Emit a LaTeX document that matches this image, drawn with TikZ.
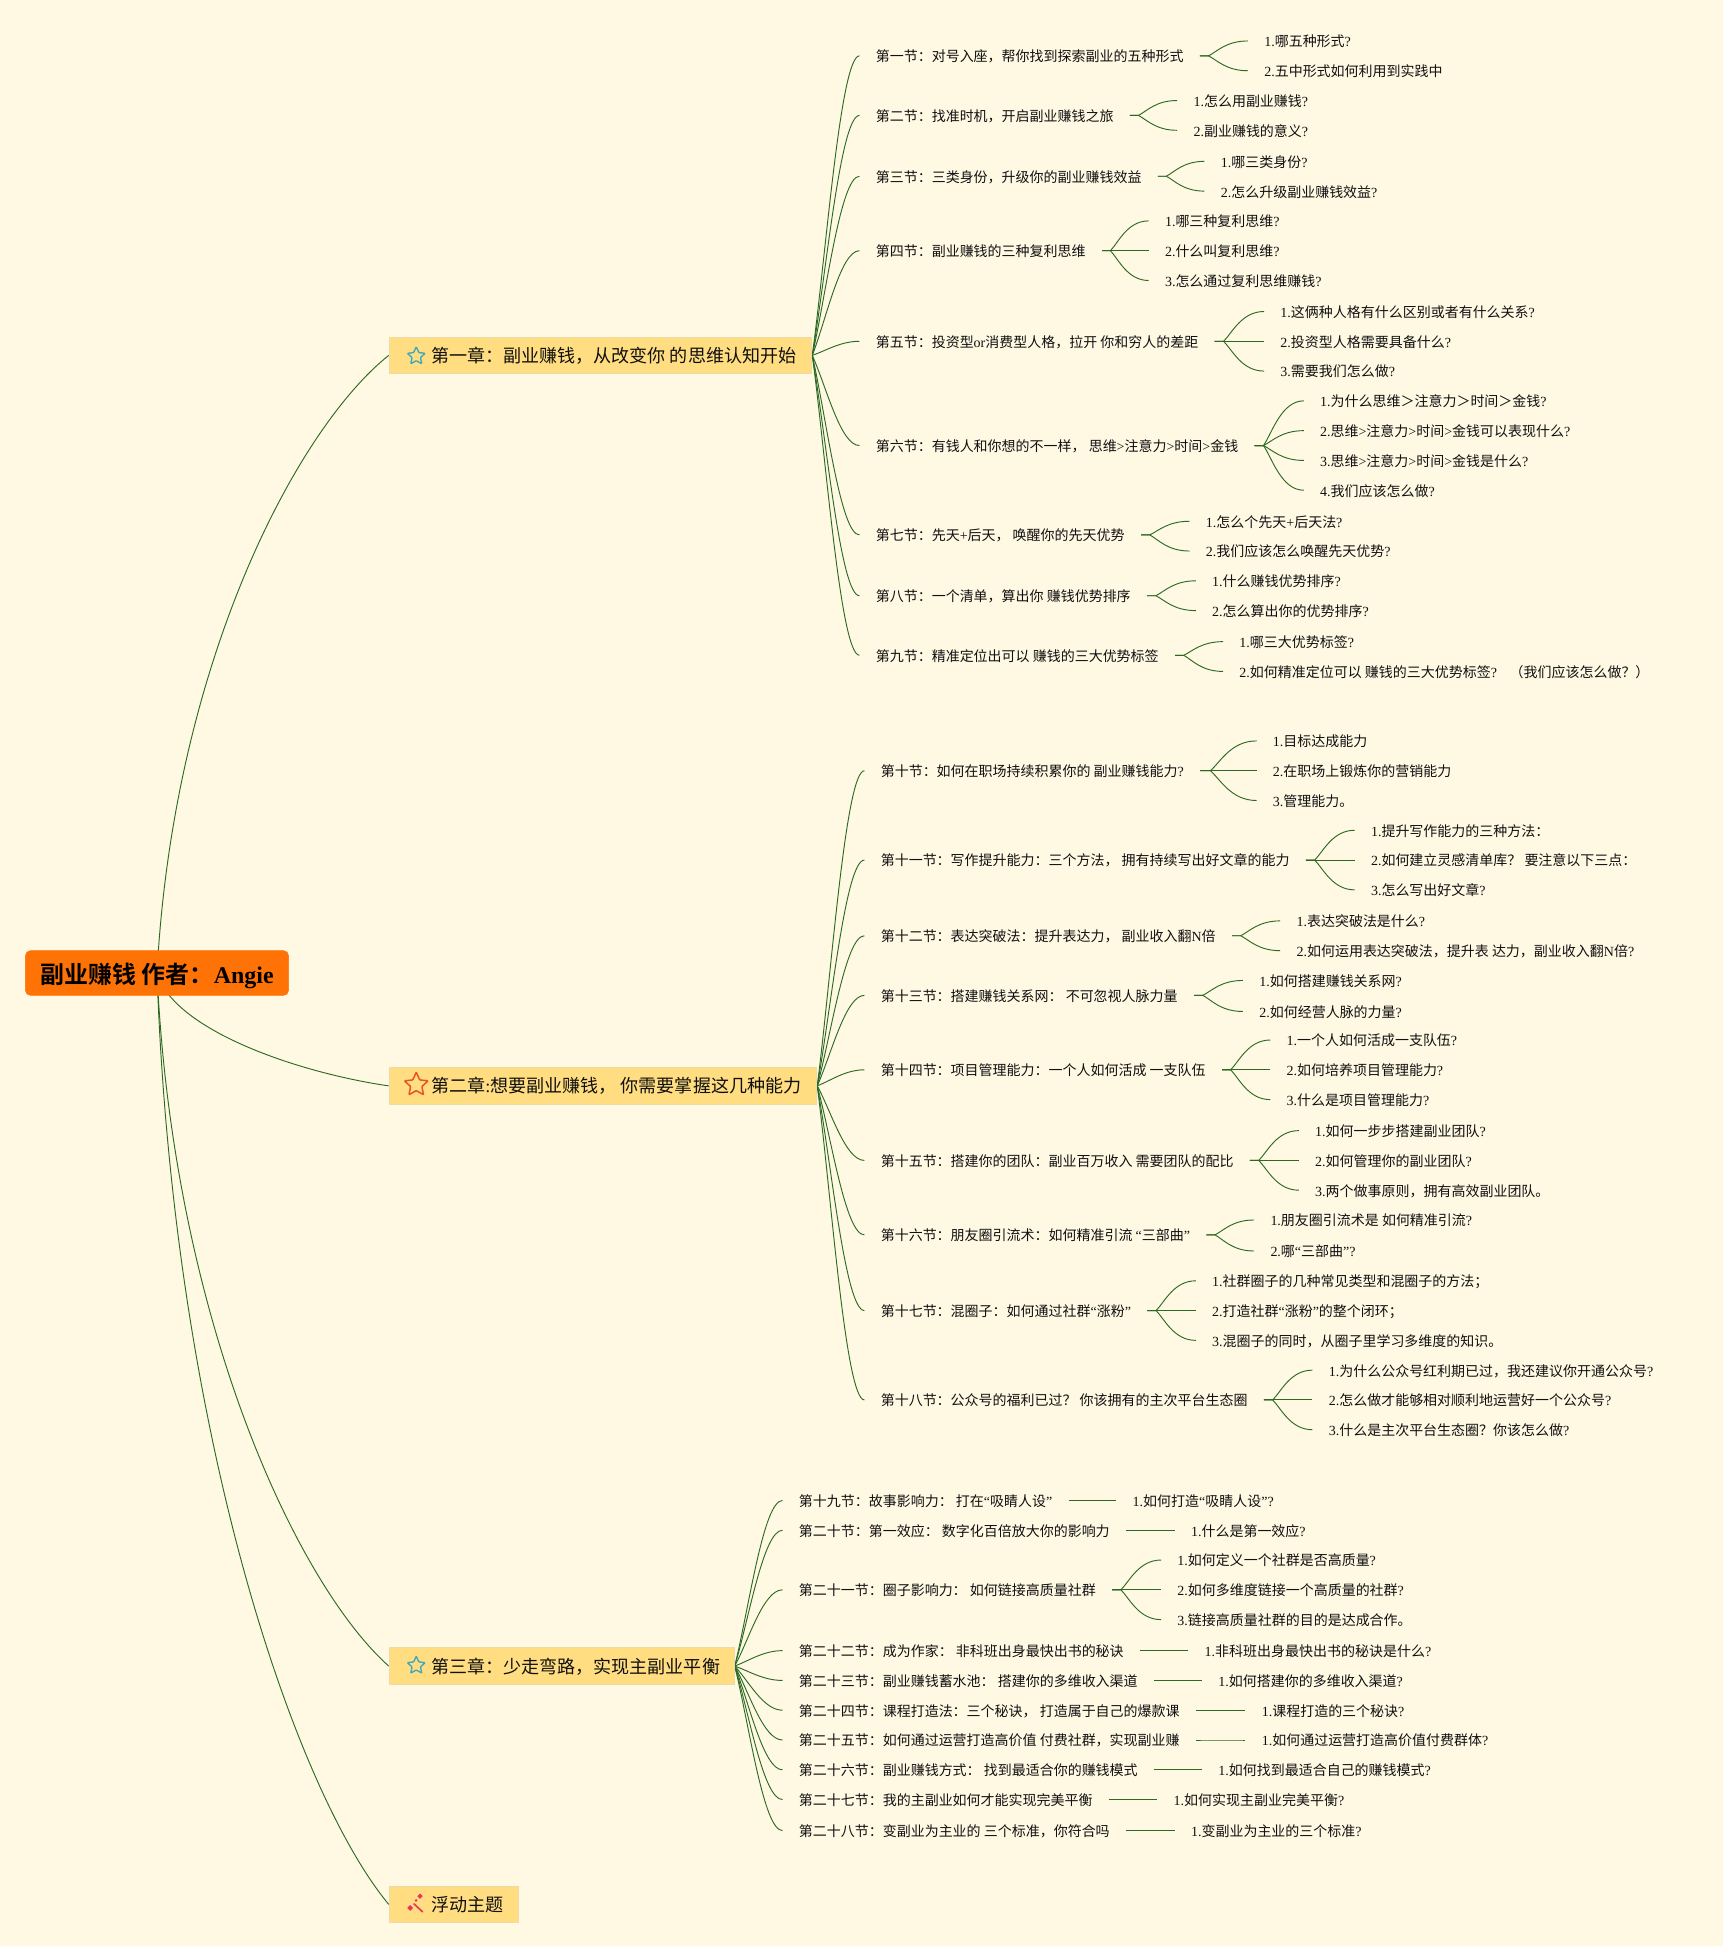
\documentclass[tikz,border=0pt]{standalone}
\usepackage{fontspec}
\usetikzlibrary{shapes.geometric,backgrounds,calc}
\setmainfont{Noto Sans CJK SC}
\newfontfamily\latfont{Liberation Serif}
\newfontfamily\cjkbold[BoldFont={Noto Sans CJK SC Bold}]{Noto Sans CJK SC}
\newcommand\lat[1]{{\latfont #1}}
\newcommand\qm{{\latfont ?}}
\definecolor{bgc}{HTML}{FFF8E3}
\definecolor{linec}{HTML}{2C6A24}
\definecolor{chapfill}{HTML}{FFDD80}
\definecolor{chapedge}{HTML}{EBDCA6}
\definecolor{rootfill}{HTML}{FF7306}
\definecolor{starblue}{HTML}{3FA8BE}
\definecolor{starred}{HTML}{E8532A}
\definecolor{wandred}{HTML}{E8355A}
\definecolor{txt}{HTML}{101010}
\tikzset{
  conn/.style={draw=linec,line width=0.75pt},
  rootbox/.style={draw=rootfill,fill=rootfill,rounded corners=4pt,minimum width=212pt,minimum height=36pt,inner sep=0pt},
  chapbox/.style={draw=chapedge,fill=chapfill,line width=0.8pt,inner sep=0pt,anchor=north west},
  chaptext/.style={anchor=west,inner sep=0pt,font=\fontsize{14.55pt}{17pt}\selectfont,text=txt},
  secnode/.style={anchor=west,inner xsep=13pt,inner ysep=0pt,text height=11.5pt,text depth=2pt,font=\fontsize{11.27pt}{14pt}\selectfont,text=txt},
  starblueic/.style={star,star points=5,star point ratio=2.1,draw=starblue,line width=1.1pt,minimum size=15pt,inner sep=0pt,rounded corners=0.6pt},
  starredic/.style={star,star points=5,star point ratio=2.1,draw=starred,line width=1.2pt,minimum size=20pt,inner sep=0pt,rounded corners=0.6pt},
  wandpart/.style={draw=wandred,line width=1.3pt,line cap=round},
}
\newcommand\spark[3]{\fill[wandred] (#1-#3,#2) -- (#1,#2-#3) -- (#1+#3,#2) -- (#1,#2+#3) -- cycle;}
\newcommand\chapcurve[2]{%
  \begin{pgfonlayer}{background}
  \draw[conn] let \p1=(#1),\p2=(#2),\n1={\x2-\x1},\n2={\y2-\y1} in
    (\p1) .. controls ({\x1+0.07*\n1},{\y1+0.5*\n2}) and ({\x1+0.6*\n1},{\y1+0.88*\n2}) .. (\p2);
  \end{pgfonlayer}}
% section: name, text-x, y, parent, text
\newcommand\mysec[5]{%
  \node[secnode] (#1) at (#2-13.5,#3) {#5};
  \begin{pgfonlayer}{background}
  \draw[conn] let \p1=(#4.east),\p2=(#1.west),\n1={\x2-\x1},\n2={\y2-\y1} in
    (\p1) .. controls ({\x1+0.3*\n1},{\y1+0.35*\n2}) and ({\x1+0.6*\n1},\y2) .. (\p2);
  \end{pgfonlayer}}
% child: name, text-x, y, parent, text
\newcommand\mykid[5]{%
  \node[secnode] (#1) at (#2-13.5,#3) {#5};
  \begin{pgfonlayer}{background}
  \draw[conn] let \p1=(#4.east),\p2=(#1.west),\n1={\x2-\x1},\n2={\y2-\y1} in
    (\p1) -- ({\x1+0.18*\n1},\y1) .. controls ({\x1+0.36*\n1},{\y1+0.3*\n2}) and ({\x1+0.55*\n1},\y2) .. (\p2);
  \end{pgfonlayer}}
\begin{document}
\begin{tikzpicture}[x=1pt,y=-1pt]
\begin{pgfonlayer}{background}
\fill[bgc] (0,0) rectangle (1388,1568);
\end{pgfonlayer}
\useasboundingbox (0,0) rectangle (1388,1568);

\node[rootbox] (root) at (126.5,784) {};
\node[anchor=west,inner sep=0pt,font=\fontsize{19.3pt}{22pt}\selectfont\bfseries,text=black] (roottext) at (32.6,786.5)
  {\cjkbold\bfseries 副业赚钱 作者：{\latfont\bfseries Angie}};

\node[chapbox,minimum width=340.5pt,minimum height=29.5pt] (c1) at (313.2,271.2) {};
\node[chaptext] (c1t) at (347.2,287) {第一章：副业赚钱，从改变你 的思维认知开始};
\node[starblueic] (c1i) at (335.4,287) {};
\node[chapbox,minimum width=344.5pt,minimum height=29.5pt] (c2) at (313.2,859.8) {};
\node[chaptext] (c2t) at (347.2,875) {第二章{\latfont:}想要副业赚钱， 你需要掌握这几种能力};
\node[starredic] (c2i) at (335.4,874) {};
\node[chapbox,minimum width=278pt,minimum height=29.5pt] (c3) at (313.2,1327.3) {};
\node[chaptext] (c3t) at (347.2,1343) {第三章：少走弯路，实现主副业平衡};
\node[starblueic] (c3i) at (335.4,1342) {};
\node[chapbox,minimum width=104pt,minimum height=29.5pt] (c4) at (313.2,1519.3) {};
\node[chaptext] (c4t) at (347.2,1535) {浮动主题};
\draw[wandpart] (333.5,1534) -- (340.5,1540.5);
\spark{330.5}{1537.3}{2.4}
\spark{338.5}{1527.8}{2.2}
\spark{335.2}{1531.3}{1.2}

\chapcurve{root.center}{c1.west}
\chapcurve{root.center}{c2.west}
\chapcurve{root.center}{c3.west}
\chapcurve{root.center}{c4.west}

% Chapter 1
\mysec{s1}{706}{45}{c1}{第一节：对号入座，帮你找到探索副业的五种形式}
\mykid{s1a}{1019}{33}{s1}{\lat{1.}哪五种形式\qm}
\mykid{s1b}{1019}{57}{s1}{\lat{2.}五中形式如何利用到实践中}
\mysec{s2}{706}{93}{c1}{第二节：找准时机，开启副业赚钱之旅}
\mykid{s2a}{962}{81}{s2}{\lat{1.}怎么用副业赚钱\qm}
\mykid{s2b}{962}{105}{s2}{\lat{2.}副业赚钱的意义\qm}
\mysec{s3}{706}{142}{c1}{第三节：三类身份，升级你的副业赚钱效益}
\mykid{s3a}{984}{130}{s3}{\lat{1.}哪三类身份\qm}
\mykid{s3b}{984}{154}{s3}{\lat{2.}怎么升级副业赚钱效益\qm}
\mysec{s4}{706}{202}{c1}{第四节：副业赚钱的三种复利思维}
\mykid{s4a}{939}{178}{s4}{\lat{1.}哪三种复利思维\qm}
\mykid{s4b}{939}{202}{s4}{\lat{2.}什么叫复利思维\qm}
\mykid{s4c}{939}{226}{s4}{\lat{3.}怎么通过复利思维赚钱\qm}
\mysec{s5}{706}{275}{c1}{第五节：投资型\lat{or}消费型人格，拉开 你和穷人的差距}
\mykid{s5a}{1032}{251}{s5}{\lat{1.}这俩种人格有什么区别或者有什么关系\qm}
\mykid{s5b}{1032}{275}{s5}{\lat{2.}投资型人格需要具备什么\qm}
\mykid{s5c}{1032}{299}{s5}{\lat{3.}需要我们怎么做\qm}
\mysec{s6}{706}{359}{c1}{第六节：有钱人和你想的不一样， 思维\lat{>}注意力\lat{>}时间\lat{>}金钱}
\mykid{s6a}{1064}{323}{s6}{\lat{1.}为什么思维＞注意力＞时间＞金钱\qm}
\mykid{s6b}{1064}{347}{s6}{\lat{2.}思维\lat{>}注意力\lat{>}时间\lat{>}金钱可以表现什么\qm}
\mykid{s6c}{1064}{371}{s6}{\lat{3.}思维\lat{>}注意力\lat{>}时间\lat{>}金钱是什么\qm}
\mykid{s6d}{1064}{395}{s6}{\lat{4.}我们应该怎么做\qm}
\mysec{s7}{706}{431}{c1}{第七节：先天\lat{+}后天， 唤醒你的先天优势}
\mykid{s7a}{972}{420}{s7}{\lat{1.}怎么个先天\lat{+}后天法\qm}
\mykid{s7b}{972}{444}{s7}{\lat{2.}我们应该怎么唤醒先天优势\qm}
\mysec{s8}{706}{480}{c1}{第八节：一个清单，算出你 赚钱优势排序}
\mykid{s8a}{977}{468}{s8}{\lat{1.}什么赚钱优势排序\qm}
\mykid{s8b}{977}{492}{s8}{\lat{2.}怎么算出你的优势排序\qm}
\mysec{s9}{706}{528}{c1}{第九节：精准定位出可以 赚钱的三大优势标签}
\mykid{s9a}{999}{517}{s9}{\lat{1.}哪三大优势标签\qm}
\mykid{s9b}{999}{541}{s9}{\lat{2.}如何精准定位可以 赚钱的三大优势标签\qm\ \ \ \ （我们应该怎么做？）}

% Chapter 2
\mysec{s10}{710}{621}{c2}{第十节：如何在职场持续积累你的 副业赚钱能力\qm}
\mykid{s10a}{1026}{597}{s10}{\lat{1.}目标达成能力}
\mykid{s10b}{1026}{621}{s10}{\lat{2.}在职场上锻炼你的营销能力}
\mykid{s10c}{1026}{645}{s10}{\lat{3.}管理能力。}
\mysec{s11}{710}{693}{c2}{第十一节：写作提升能力：三个方法， 拥有持续写出好文章的能力}
\mykid{s11a}{1105}{669}{s11}{\lat{1.}提升写作能力的三种方法：}
\mykid{s11b}{1105}{693}{s11}{\lat{2.}如何建立灵感清单库？ 要注意以下三点：}
\mykid{s11c}{1105}{717}{s11}{\lat{3.}怎么写出好文章\qm}
\mysec{s12}{710}{754}{c2}{第十二节：表达突破法：提升表达力， 副业收入翻\lat{N}倍}
\mykid{s12a}{1045}{742}{s12}{\lat{1.}表达突破法是什么\qm}
\mykid{s12b}{1045}{766}{s12}{\lat{2.}如何运用表达突破法，提升表 达力，副业收入翻\lat{N}倍\qm}
\mysec{s13}{710}{802}{c2}{第十三节：搭建赚钱关系网： 不可忽视人脉力量}
\mykid{s13a}{1015}{790}{s13}{\lat{1.}如何搭建赚钱关系网\qm}
\mykid{s13b}{1015}{815}{s13}{\lat{2.}如何经营人脉的力量\qm}
\mysec{s14}{710}{862}{c2}{第十四节：项目管理能力：一个人如何活成 一支队伍}
\mykid{s14a}{1037}{838}{s14}{\lat{1.}一个人如何活成一支队伍\qm}
\mykid{s14b}{1037}{862}{s14}{\lat{2.}如何培养项目管理能力\qm}
\mykid{s14c}{1037}{886}{s14}{\lat{3.}什么是项目管理能力\qm}
\mysec{s15}{710}{935}{c2}{第十五节：搭建你的团队：副业百万收入 需要团队的配比}
\mykid{s15a}{1060}{911}{s15}{\lat{1.}如何一步步搭建副业团队\qm}
\mykid{s15b}{1060}{935}{s15}{\lat{2.}如何管理你的副业团队\qm}
\mykid{s15c}{1060}{959}{s15}{\lat{3.}两个做事原则，拥有高效副业团队。}
\mysec{s16}{710}{995}{c2}{第十六节：朋友圈引流术：如何精准引流 \lat{“}三部曲\lat{”}}
\mykid{s16a}{1024}{983}{s16}{\lat{1.}朋友圈引流术是 如何精准引流\qm}
\mykid{s16b}{1024}{1008}{s16}{\lat{2.}哪\lat{“}三部曲\lat{”}\qm}
\mysec{s17}{710}{1056}{c2}{第十七节：混圈子：如何通过社群\lat{“}涨粉\lat{”}}
\mykid{s17a}{977}{1032}{s17}{\lat{1.}社群圈子的几种常见类型和混圈子的方法；}
\mykid{s17b}{977}{1056}{s17}{\lat{2.}打造社群\lat{“}涨粉\lat{”}的整个闭环；}
\mykid{s17c}{977}{1080}{s17}{\lat{3.}混圈子的同时，从圈子里学习多维度的知识。}
\mysec{s18}{710}{1128}{c2}{第十八节：公众号的福利已过？ 你该拥有的主次平台生态圈}
\mykid{s18a}{1071}{1104}{s18}{\lat{1.}为什么公众号红利期已过，我还建议你开通公众号\qm}
\mykid{s18b}{1071}{1128}{s18}{\lat{2.}怎么做才能够相对顺利地运营好一个公众号\qm}
\mykid{s18c}{1071}{1152}{s18}{\lat{3.}什么是主次平台生态圈？你该怎么做\qm}

% Chapter 3
\mysec{s19}{644}{1209}{c3}{第十九节：故事影响力： 打在\lat{“}吸睛人设\lat{”}}
\mykid{s19a}{913}{1209}{s19}{\lat{1.}如何打造\lat{“}吸睛人设\lat{”}\qm}
\mysec{s20}{644}{1233}{c3}{第二十节：第一效应： 数字化百倍放大你的影响力}
\mykid{s20a}{960}{1233}{s20}{\lat{1.}什么是第一效应\qm}
\mysec{s21}{644}{1281}{c3}{第二十一节：圈子影响力： 如何链接高质量社群}
\mykid{s21a}{949}{1257}{s21}{\lat{1.}如何定义一个社群是否高质量\qm}
\mykid{s21b}{949}{1281}{s21}{\lat{2.}如何多维度链接一个高质量的社群\qm}
\mykid{s21c}{949}{1305}{s21}{\lat{3.}链接高质量社群的目的是达成合作。}
\mysec{s22}{644}{1330}{c3}{第二十二节：成为作家： 非科班出身最快出书的秘诀}
\mykid{s22a}{971}{1330}{s22}{\lat{1.}非科班出身最快出书的秘诀是什么\qm}
\mysec{s23}{644}{1354}{c3}{第二十三节：副业赚钱蓄水池： 搭建你的多维收入渠道}
\mykid{s23a}{982}{1354}{s23}{\lat{1.}如何搭建你的多维收入渠道\qm}
\mysec{s24}{644}{1378}{c3}{第二十四节：课程打造法：三个秘诀， 打造属于自己的爆款课}
\mykid{s24a}{1017}{1378}{s24}{\lat{1.}课程打造的三个秘诀\qm}
\mysec{s25}{644}{1402}{c3}{第二十五节：如何通过运营打造高价值 付费社群，实现副业赚}
\mykid{s25a}{1017}{1402}{s25}{\lat{1.}如何通过运营打造高价值付费群体\qm}
\mysec{s26}{644}{1426}{c3}{第二十六节：副业赚钱方式： 找到最适合你的赚钱模式}
\mykid{s26a}{982}{1426}{s26}{\lat{1.}如何找到最适合自己的赚钱模式\qm}
\mysec{s27}{644}{1450}{c3}{第二十七节：我的主副业如何才能实现完美平衡}
\mykid{s27a}{946}{1450}{s27}{\lat{1.}如何实现主副业完美平衡\qm}
\mysec{s28}{644}{1475}{c3}{第二十八节：变副业为主业的 三个标准，你符合吗}
\mykid{s28a}{960}{1475}{s28}{\lat{1.}变副业为主业的三个标准\qm}
\end{tikzpicture}
\end{document}
